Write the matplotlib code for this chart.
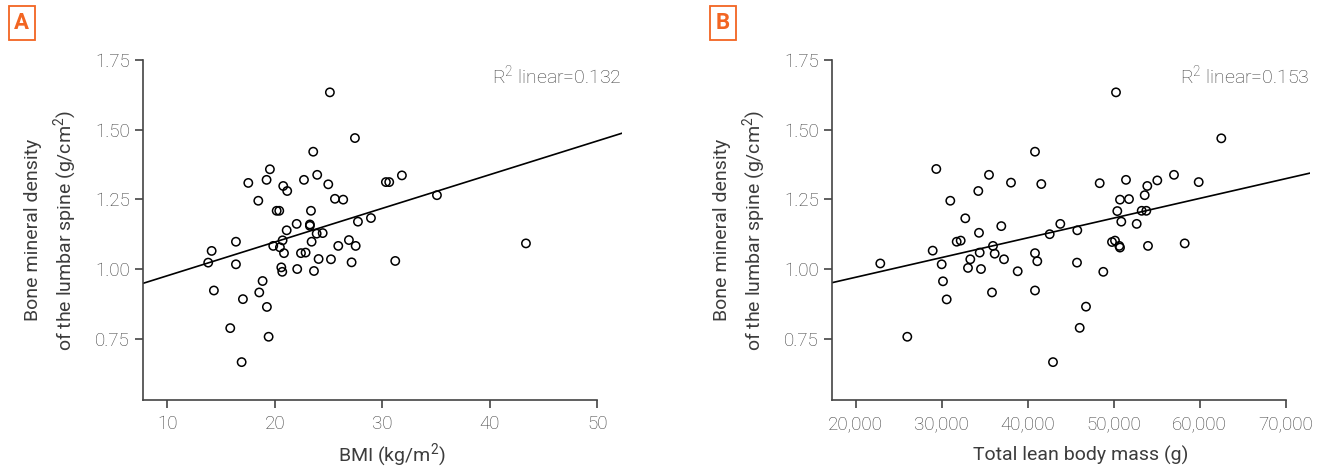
import matplotlib
matplotlib.use("Agg")
import matplotlib.pyplot as plt
from matplotlib.ticker import StrMethodFormatter

plt.rcParams["font.family"] = ["Roboto", "DejaVu Sans"]
plt.rcParams["font.weight"] = "light"
plt.rcParams["mathtext.default"] = "regular"

# panel A: BMI vs lumbar spine BMD
bmi = [25.13, 27.46, 23.58, 19.55, 17.54, 19.24, 20.79, 21.16, 22.72, 23.95,
       24.98, 25.60, 26.37, 18.47, 20.18, 20.42, 23.37, 30.34, 30.65, 22.04,
       23.27, 23.27, 21.11, 23.90, 24.46, 27.74, 28.95, 16.39, 19.86, 20.73,
       23.43, 25.91, 26.90, 27.53, 14.13, 13.81, 16.39, 20.48, 20.86, 22.44,
       22.87, 20.61, 20.70, 22.09, 23.65, 24.08, 25.23, 27.15, 14.34, 18.87,
       18.56, 17.04, 19.27, 15.86, 19.43, 16.92, 31.83, 35.09, 31.21, 43.37]
bmd_a = [1.634, 1.470, 1.421, 1.358, 1.309, 1.320, 1.298, 1.280, 1.320, 1.338,
         1.304, 1.252, 1.249, 1.245, 1.209, 1.209, 1.209, 1.312, 1.312, 1.162,
         1.160, 1.155, 1.139, 1.127, 1.129, 1.170, 1.183, 1.098, 1.083, 1.103,
         1.098, 1.083, 1.104, 1.083, 1.065, 1.023, 1.017, 1.078, 1.057, 1.057,
         1.059, 1.006, 0.990, 1.000, 0.993, 1.036, 1.035, 1.024, 0.923, 0.957,
         0.916, 0.892, 0.864, 0.788, 0.757, 0.666, 1.336, 1.265, 1.029, 1.092]

# panel B: total lean body mass vs lumbar spine BMD
lean = [40849, 29372, 35500, 38058, 41581, 34256, 31000, 32744, 36930, 34337,
        31744, 32209, 35965, 42558, 43791, 28953, 22860, 30000, 33326, 34419,
        36163, 37244, 33058, 34570, 38837, 40849, 41116, 45767, 45733, 30151,
        30581, 35849, 40849, 26000, 42942, 50268, 62512, 48372, 51430, 53907,
        55070, 57012, 59884, 50733, 51779, 53605, 50419, 53256, 53791, 50884,
        52674, 49802, 50151, 50651, 50733, 53988, 58256, 48791, 46779, 46047]
bmd_b = [1.421, 1.359, 1.338, 1.310, 1.305, 1.280, 1.245, 1.182, 1.154, 1.130,
         1.098, 1.102, 1.083, 1.125, 1.162, 1.066, 1.020, 1.017, 1.035, 1.059,
         1.055, 1.035, 1.004, 1.000, 0.992, 1.057, 1.028, 1.139, 1.023, 0.956,
         0.891, 0.916, 0.923, 0.757, 0.666, 1.634, 1.469, 1.308, 1.320, 1.298,
         1.318, 1.338, 1.312, 1.249, 1.251, 1.265, 1.208, 1.209, 1.209, 1.170,
         1.162, 1.097, 1.102, 1.083, 1.077, 1.083, 1.092, 0.990, 0.865, 0.789]

# fit lines (intercept, slope)
fit_a = (0.855, 0.01209)
fit_b = (0.829, 7.075e-6)

y_ticks = [0.75, 1.00, 1.25, 1.50, 1.75]
x_ticks_a = [10, 20, 30, 40, 50]
x_ticks_b = [20000, 30000, 40000, 50000, 60000, 70000]

txt = "#3c3c3c"
ax_col = "#444444"
orange = "#F26522"

fig = plt.figure(figsize=(13.23, 4.70), dpi=100)
axA = fig.add_axes([0.1083, 0.1489, 0.3618, 0.7234])
axB = fig.add_axes([0.6291, 0.1489, 0.3611, 0.7234])


def style(ax, x, y, fit, xlim, xticks, xlabel, r2):
    ax.scatter(x, y, s=36, facecolors="none", edgecolors="black", linewidths=1.1, zorder=3)
    ax.plot(list(xlim), [fit[0] + fit[1] * v for v in xlim], color="black", lw=1.2)
    ax.set_xlim(xlim)
    ax.set_ylim(0.53, 1.75)
    ax.set_xticks(xticks)
    ax.set_yticks(y_ticks)
    ax.yaxis.set_major_formatter(StrMethodFormatter("{x:.2f}"))
    for s in ["top", "right"]:
        ax.spines[s].set_visible(False)
    for s in ["left", "bottom"]:
        ax.spines[s].set_color(ax_col)
        ax.spines[s].set_linewidth(1.2)
    ax.spines["bottom"].set_bounds(xlim[0], xticks[-1])
    ax.tick_params(colors=ax_col, labelcolor=txt, labelsize=13.5, length=6, width=1.2)
    ax.tick_params(axis="x", pad=5)
    ax.set_xlabel(xlabel, fontsize=14, color=txt, va="center")
    ax.xaxis.set_label_coords(0.52, -0.162)
    ax.set_ylabel("Bone mineral density\nof the lumbar spine (g/cm$^2$)", fontsize=14,
                  color=txt, labelpad=12, linespacing=1.45)
    ax.text(1.0, 0.955, "R$^2$ linear=" + r2, transform=ax.transAxes, ha="right", va="center",
            fontsize=14, color=txt)


style(axA, bmi, bmd_a, fit_a, (7.77, 52.3), x_ticks_a, "BMI (kg/m$^2$)", "0.132")
style(axB, lean, bmd_b, fit_b, (17280, 72830), x_ticks_b, "Total lean body mass (g)", "0.153")
axB.xaxis.set_major_formatter(StrMethodFormatter("{x:,.0f}"))

for lbl, xp in [("A", 0.0163), ("B", 0.5465)]:
    fig.text(xp, 0.951, lbl, fontsize=16, fontweight="bold", color=orange, ha="center", va="center",
             bbox=dict(boxstyle="square,pad=0.25", facecolor="white", edgecolor=orange, linewidth=1.3))

fig.savefig("out.png", dpi=100)
